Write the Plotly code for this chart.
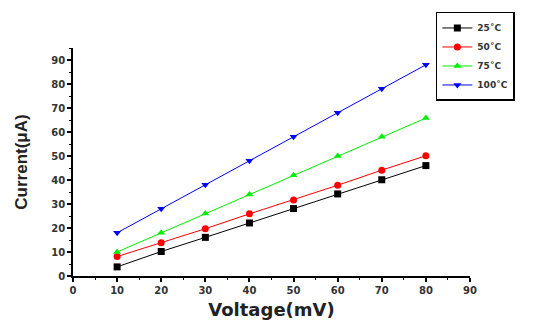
import plotly.graph_objects as go

voltage = [10, 20, 30, 40, 50, 60, 70, 80]
current_25 = [3.8, 10.2, 16.1, 22.1, 28.1, 34.2, 40.1, 46.0]
current_50 = [8.1, 13.9, 19.7, 25.9, 31.7, 37.8, 44.1, 50.1]
current_75 = [10.0, 18.0, 26.0, 34.0, 42.0, 50.0, 58.0, 65.8]
current_100 = [18.0, 28.0, 38.0, 48.0, 58.0, 68.0, 78.0, 88.0]
series_names = ["25˚C", "50˚C", "75˚C", "100˚C"]
colors = ["#000000", "#ff0000", "#00ee00", "#0000ff"]
symbols = ["square", "circle", "triangle-up", "triangle-down"]

fig = go.Figure()
for name, ys, c, s in zip(series_names, [current_25, current_50, current_75, current_100], colors, symbols):
    fig.add_trace(go.Scatter(
        x=voltage, y=ys, name=name, mode="lines+markers",
        line=dict(color=c, width=1),
        marker=dict(symbol=s, size=7, color=c),
    ))

tick_font = dict(family="DejaVu Sans, Liberation Sans", size=10, color="#333333", weight="bold")
fig.update_layout(
    width=555, height=322,
    margin=dict(l=65, r=93, t=40, b=54, autoexpand=False),
    paper_bgcolor="white", plot_bgcolor="white",
    showlegend=True,
    legend=dict(
        x=0.914, y=1.158, xanchor="left", yanchor="top",
        bordercolor="black", borderwidth=1.5, bgcolor="white",
        font=dict(family="DejaVu Sans, Liberation Sans", size=9, color="#333333", weight="bold"),
        tracegroupgap=0, itemwidth=30,
    ),
    xaxis=dict(
        range=[0, 90], tickvals=[0, 10, 20, 30, 40, 50, 60, 70, 80, 90],
        automargin=False,
        showgrid=False, zeroline=False, showline=True, linecolor="black", linewidth=1.5,
        ticks="outside", ticklen=4, tickwidth=1.5, tickcolor="black",
        minor=dict(dtick=5, ticks="outside", ticklen=2.5, tickcolor="black", tickwidth=1.2),
        tickfont=tick_font,
        title=dict(text="<b>Voltage(mV)</b>", font=dict(family="DejaVu Sans, Liberation Sans", size=18, color="#222222"), standoff=9),
    ),
    yaxis=dict(
        range=[0, 95], tickvals=[0, 10, 20, 30, 40, 50, 60, 70, 80, 90],
        automargin=False,
        showgrid=False, zeroline=False, showline=True, linecolor="black", linewidth=1.5,
        ticks="outside", ticklen=4, tickwidth=1.5, tickcolor="black",
        minor=dict(dtick=5, ticks="outside", ticklen=2.5, tickcolor="black", tickwidth=1.2),
        tickfont=tick_font,
        title=dict(text="<b>Current(μA)</b>", font=dict(family="Liberation Sans", size=17, color="#222222"), standoff=19),
    ),
)
fig.write_html("out.html")
